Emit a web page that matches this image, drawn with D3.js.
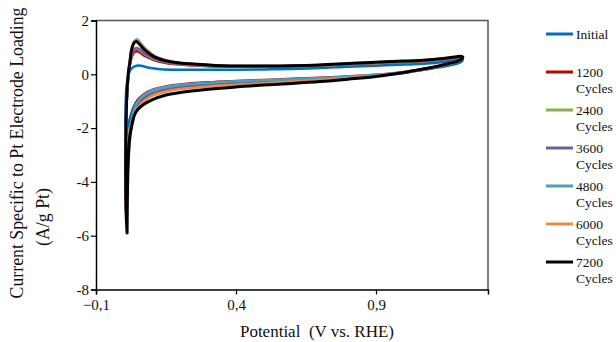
<!DOCTYPE html>
<html><head><meta charset="utf-8">
<script src="https://cdn.jsdelivr.net/npm/d3@7"></script>
<style>body{margin:0;background:#fff}svg{display:block}text{font-family:"Liberation Serif","Times New Roman",serif;fill:#111}</style>
</head><body><svg id="c" width="616" height="342"></svg>
<script>
// Data: [potential V vs RHE, current A/g Pt], traced anodic then cathodic
const seriesNames = ["Initial", "1200 Cycles", "2400 Cycles", "3600 Cycles", "4800 Cycles", "6000 Cycles", "7200 Cycles"];
const xTicks = [-0.1, 0.4, 0.9];
const yTicks = [2, 0, -2, -4, -6, -8];

const initial = [[0.005,-2.45],[0.005,-1.5],[0.008,-0.6],[0.014,-0.1],[0.022,0.15],[0.035,0.28],[0.05,0.33],[0.065,0.31],[0.09,0.24],[0.13,0.19],[0.2,0.17],[0.3,0.17],[0.4,0.17],[0.5,0.18],[0.6,0.2],[0.7,0.23],[0.8,0.28],[0.9,0.32],[1.0,0.36],[1.08,0.4],[1.14,0.46],[1.18,0.52],[1.2,0.56],[1.21,0.54],
  [1.205,0.47],[1.19,0.4],[1.16,0.33],[1.12,0.25],[1.06,0.15],[1.0,0.06],[0.9,-0.04],[0.8,-0.11],[0.7,-0.17],[0.6,-0.22],[0.5,-0.26],[0.4,-0.3],[0.3,-0.35],[0.2,-0.43],[0.15,-0.5],[0.1,-0.62],[0.07,-0.78],[0.05,-0.95],[0.035,-1.2],[0.022,-1.6],[0.012,-2.0],[0.006,-2.45]];
const c1200 = [[0.010,-4.0],[0.007,-3.2],[0.007,-2.2],[0.009,-1.2],[0.013,-0.4],[0.019,0.2],[0.027,0.62],[0.036,0.82],[0.046,0.86],[0.058,0.8],[0.075,0.68],[0.11,0.52],[0.15,0.42],[0.2,0.36],[0.3,0.3],[0.4,0.28],[0.5,0.28],[0.6,0.29],[0.7,0.32],[0.8,0.37],[0.9,0.41],[1.0,0.45],[1.08,0.49],[1.14,0.54],[1.18,0.59],[1.2,0.62],[1.21,0.6],
  [1.205,0.53],[1.19,0.46],[1.16,0.38],[1.12,0.29],[1.06,0.18],[1.0,0.09],[0.9,-0.02],[0.8,-0.08],[0.7,-0.13],[0.6,-0.17],[0.5,-0.21],[0.4,-0.25],[0.3,-0.3],[0.2,-0.38],[0.15,-0.45],[0.1,-0.58],[0.07,-0.75],[0.05,-0.95],[0.038,-1.2],[0.028,-1.6],[0.02,-2.2],[0.015,-2.9],[0.012,-3.5],[0.010,-4.0]];
const c2400 = [[0.010,-4.2],[0.007,-3.3],[0.007,-2.2],[0.009,-1.2],[0.013,-0.4],[0.019,0.22],[0.027,0.68],[0.036,0.9],[0.046,0.95],[0.058,0.88],[0.075,0.74],[0.11,0.56],[0.15,0.45],[0.2,0.38],[0.3,0.32],[0.4,0.29],[0.5,0.29],[0.6,0.3],[0.7,0.33],[0.8,0.38],[0.9,0.42],[1.0,0.46],[1.08,0.5],[1.14,0.55],[1.18,0.6],[1.2,0.63],[1.21,0.61],
  [1.205,0.54],[1.19,0.47],[1.16,0.39],[1.12,0.29],[1.06,0.18],[1.0,0.08],[0.9,-0.03],[0.8,-0.1],[0.7,-0.15],[0.6,-0.2],[0.5,-0.24],[0.4,-0.29],[0.3,-0.35],[0.2,-0.44],[0.15,-0.52],[0.1,-0.66],[0.07,-0.84],[0.05,-1.05],[0.038,-1.3],[0.028,-1.7],[0.02,-2.3],[0.015,-3.0],[0.012,-3.7],[0.010,-4.2]];
const c3600 = [[0.010,-4.3],[0.007,-3.4],[0.007,-2.3],[0.009,-1.2],[0.013,-0.4],[0.019,0.24],[0.027,0.7],[0.036,0.93],[0.046,0.98],[0.058,0.92],[0.075,0.77],[0.11,0.58],[0.15,0.46],[0.2,0.39],[0.3,0.33],[0.4,0.3],[0.5,0.3],[0.6,0.31],[0.7,0.34],[0.8,0.39],[0.9,0.43],[1.0,0.47],[1.08,0.51],[1.14,0.56],[1.18,0.61],[1.2,0.64],[1.21,0.62],
  [1.205,0.55],[1.19,0.47],[1.16,0.39],[1.12,0.29],[1.06,0.17],[1.0,0.07],[0.9,-0.04],[0.8,-0.11],[0.7,-0.17],[0.6,-0.22],[0.5,-0.27],[0.4,-0.32],[0.3,-0.39],[0.2,-0.48],[0.15,-0.57],[0.1,-0.72],[0.07,-0.9],[0.05,-1.12],[0.038,-1.35],[0.028,-1.8],[0.02,-2.4],[0.015,-3.1],[0.012,-3.8],[0.010,-4.3]];
const c4800 = [[0.010,-4.4],[0.007,-3.5],[0.007,-2.3],[0.009,-1.2],[0.013,-0.3],[0.019,0.35],[0.027,0.9],[0.036,1.2],[0.046,1.3],[0.058,1.18],[0.075,0.97],[0.11,0.68],[0.15,0.52],[0.2,0.42],[0.3,0.35],[0.4,0.31],[0.5,0.31],[0.6,0.32],[0.7,0.35],[0.8,0.4],[0.9,0.44],[1.0,0.48],[1.08,0.52],[1.14,0.58],[1.18,0.63],[1.2,0.66],[1.21,0.63],
  [1.205,0.55],[1.19,0.47],[1.16,0.39],[1.12,0.29],[1.06,0.18],[1.0,0.08],[0.9,-0.02],[0.8,-0.09],[0.7,-0.14],[0.6,-0.18],[0.5,-0.22],[0.4,-0.26],[0.3,-0.31],[0.2,-0.39],[0.15,-0.47],[0.1,-0.6],[0.07,-0.78],[0.05,-1.0],[0.038,-1.25],[0.028,-1.7],[0.02,-2.3],[0.015,-3.1],[0.012,-3.8],[0.010,-4.4]];
const c6000 = [[0.006,-5.05],[0.005,-4.3],[0.006,-3.0],[0.008,-1.6],[0.012,-0.5],[0.018,0.3],[0.026,0.88],[0.035,1.18],[0.045,1.27],[0.057,1.16],[0.075,0.95],[0.11,0.67],[0.15,0.52],[0.2,0.42],[0.3,0.35],[0.4,0.31],[0.5,0.31],[0.6,0.32],[0.7,0.35],[0.8,0.4],[0.9,0.45],[1.0,0.49],[1.08,0.53],[1.14,0.58],[1.18,0.64],[1.2,0.67],[1.21,0.64],
  [1.205,0.56],[1.19,0.48],[1.16,0.39],[1.12,0.28],[1.06,0.16],[1.0,0.05],[0.9,-0.06],[0.8,-0.14],[0.7,-0.21],[0.6,-0.27],[0.5,-0.33],[0.4,-0.39],[0.3,-0.45],[0.2,-0.55],[0.15,-0.64],[0.1,-0.8],[0.07,-1.0],[0.05,-1.22],[0.038,-1.45],[0.028,-1.9],[0.02,-2.6],[0.015,-3.4],[0.011,-4.2],[0.008,-4.8],[0.006,-5.05]];
const c7200 = [[0.011,-5.9],[0.007,-5.0],[0.006,-3.5],[0.007,-2.0],[0.010,-0.8],[0.015,0.0],[0.021,0.45],[0.028,0.95],[0.036,1.17],[0.044,1.22],[0.055,1.12],[0.075,0.9],[0.11,0.64],[0.15,0.5],[0.2,0.42],[0.3,0.35],[0.4,0.31],[0.5,0.31],[0.6,0.32],[0.7,0.35],[0.8,0.4],[0.9,0.45],[1.0,0.49],[1.08,0.53],[1.14,0.59],[1.18,0.64],[1.2,0.67],[1.21,0.64],
  [1.205,0.56],[1.19,0.48],[1.16,0.4],[1.12,0.3],[1.06,0.18],[1.0,0.07],[0.9,-0.08],[0.8,-0.18],[0.7,-0.27],[0.6,-0.34],[0.5,-0.4],[0.4,-0.47],[0.3,-0.56],[0.2,-0.68],[0.15,-0.77],[0.1,-0.95],[0.07,-1.12],[0.05,-1.3],[0.038,-1.5],[0.028,-1.9],[0.021,-2.3],[0.016,-3.0],[0.013,-4.0],[0.011,-5.9]];

const seriesData = [initial, c1200, c2400, c3600, c4800, c6000, c7200];
const colors = ["#0070C0", "#C00000", "#8AAF4E", "#7457A0", "#43A3C1", "#EC8A3E", "#000000"];
const widths = [2.5, 2.5, 2.5, 2.5, 2.5, 2.5, 3];

const svg = d3.select("#c");
const L = 96, R = 488, T = 20.5, B = 289.5;
const x = d3.scaleLinear().domain([-0.1, 1.3]).range([L, R]);
const y = d3.scaleLinear().domain([-8, 2]).range([B, T]);

// plot border (top/right grey)
svg.append("path").attr("d", `M${L},${T}H${R}V${B}`).attr("fill", "none").attr("stroke", "#555").attr("stroke-width", 1.5);

const line = d3.line().x(d => x(d[0])).y(d => y(d[1])).curve(d3.curveCatmullRom.alpha(0.5));
svg.append("g").selectAll("path").data(seriesData).join("path")
  .attr("d", d => line(d)).attr("fill", "none")
  .attr("stroke", (d, i) => colors[i]).attr("stroke-width", (d, i) => widths[i])
  .attr("stroke-linejoin", "round").attr("stroke-linecap", "round");

const fmt = d => d3.format("")(d).replace(".", ",");
const gx = svg.append("g").attr("transform", `translate(0,${B})`)
  .call(d3.axisBottom(x).tickValues(xTicks).tickSize(5).tickFormat(fmt));
const gy = svg.append("g").attr("transform", `translate(${L},0)`)
  .call(d3.axisLeft(y).tickValues(yTicks).tickSize(5).tickFormat(d => String(d)));
[gx, gy].forEach(g => {
  g.select(".domain").attr("stroke", "#000").attr("stroke-width", 1.5);
  g.selectAll(".tick line").attr("stroke", "#000").attr("stroke-width", 1.2);
  g.selectAll(".tick text").attr("font-family", "Liberation Serif").attr("font-size", 15).attr("fill", "#111");
});
gy.selectAll(".tick text").attr("x", -7);
gx.selectAll(".tick text").attr("y", 9.5);

svg.append("text").attr("x", 317).attr("y", 337).attr("text-anchor", "middle").attr("font-size", 17)
  .attr("xml:space", "preserve").text("Potential  (V vs. RHE)");
svg.append("text").attr("transform", "translate(23,153) rotate(-90)").attr("text-anchor", "middle").attr("font-size", 17.8)
  .text("Current Specific to Pt Electrode Loading");
svg.append("text").attr("transform", "translate(49,217) rotate(-90)").attr("text-anchor", "middle").attr("font-size", 17.8)
  .text("(A/g Pt)");

// legend
const lg = svg.append("g");
seriesNames.forEach((n, i) => {
  const yy = i === 0 ? 34 : 72 + (i - 1) * 38;
  lg.append("line").attr("x1", 546).attr("x2", 573).attr("y1", yy).attr("y2", yy)
    .attr("stroke", colors[i]).attr("stroke-width", 3);
  const parts = n.split(" ");
  parts.forEach((p, k) => {
    lg.append("text").attr("x", 576).attr("y", yy + 4.5 + k * 16.5).attr("font-size", 13.5).text(p);
  });
});
</script></body></html>
